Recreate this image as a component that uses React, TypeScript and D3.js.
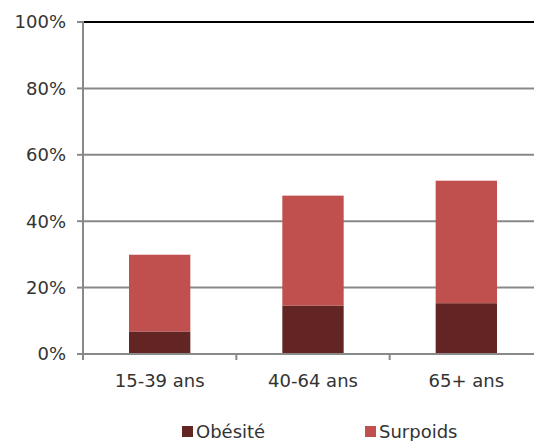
import { useEffect, useRef } from "react"
import * as d3 from "d3"

const categories = ["15-39 ans", "40-64 ans", "65+ ans"]
const obesite = [6.8, 14.6, 15.3]
const surpoids = [23.1, 33.1, 36.9]
const seriesNames = ["Obésité", "Surpoids"]
const yTicks = [0, 20, 40, 60, 80, 100]

const colors = ["#632523", "#C0504D"]
const textColor = "#333333"
const gridColor = "#898989"
const font = "'DejaVu Sans', Verdana, sans-serif"

export default function App() {
  const svgRef = useRef<SVGSVGElement>(null)

  useEffect(() => {
    if (!svgRef.current) return
    const svg = d3.select(svgRef.current)
    svg.selectAll("*").remove()

    const left = 83
    const right = 543
    const top = 22
    const bottom = 354

    const x = d3
      .scaleBand()
      .domain(categories)
      .range([left, right])
      .paddingInner(0.6)
      .paddingOuter(0.3)

    const y = d3.scaleLinear().domain([0, 100]).range([bottom, top])

    // gridlines
    svg
      .append("g")
      .selectAll("line")
      .data(yTicks.filter((t) => t > 0))
      .enter()
      .append("line")
      .attr("x1", left)
      .attr("x2", 534)
      .attr("y1", (d) => y(d))
      .attr("y2", (d) => y(d))
      .attr("stroke", (d) => (d === 100 ? "#000000" : gridColor))
      .attr("stroke-width", 2)

    // stacked bars
    const rows = categories.map((c, i) => ({ cat: c, obesite: obesite[i], surpoids: surpoids[i] }))
    const stack = d3.stack<any>().keys(["obesite", "surpoids"])(rows)

    stack.forEach((layer, li) => {
      svg
        .append("g")
        .selectAll("rect")
        .data(layer)
        .enter()
        .append("rect")
        .attr("x", (d: any) => x(d.data.cat) || 0)
        .attr("width", x.bandwidth())
        .attr("y", (d) => y(d[1]))
        .attr("height", (d) => y(d[0]) - y(d[1]))
        .attr("fill", colors[li])
    })

    // y axis
    svg
      .append("line")
      .attr("x1", left)
      .attr("x2", left)
      .attr("y1", top - 1)
      .attr("y2", bottom + 6)
      .attr("stroke", gridColor)
      .attr("stroke-width", 2)

    const yt = svg.append("g")
    yt.selectAll("line")
      .data(yTicks)
      .enter()
      .append("line")
      .attr("x1", left - 6)
      .attr("x2", left)
      .attr("y1", (d) => y(d))
      .attr("y2", (d) => y(d))
      .attr("stroke", gridColor)
      .attr("stroke-width", 2)
    yt.selectAll("text")
      .data(yTicks)
      .enter()
      .append("text")
      .attr("x", 66)
      .attr("y", (d) => y(d))
      .attr("dy", "0.36em")
      .attr("text-anchor", "end")
      .attr("font-family", font)
      .attr("font-size", "18px")
      .attr("fill", textColor)
      .text((d) => `${d}%`)

    // x axis
    svg
      .append("line")
      .attr("x1", left - 6)
      .attr("x2", 534)
      .attr("y1", bottom)
      .attr("y2", bottom)
      .attr("stroke", gridColor)
      .attr("stroke-width", 2)

    const step = x.step()
    const xTickPos = categories.map((c) => (x(c) || 0) - (step * x.paddingInner()) / 2 + step)
    svg
      .append("g")
      .selectAll("line")
      .data(xTickPos)
      .enter()
      .append("line")
      .attr("x1", (d) => d)
      .attr("x2", (d) => d)
      .attr("y1", bottom)
      .attr("y2", bottom + 6)
      .attr("stroke", gridColor)
      .attr("stroke-width", 2)

    svg
      .append("g")
      .selectAll("text")
      .data(categories)
      .enter()
      .append("text")
      .attr("x", (d) => (x(d) || 0) + x.bandwidth() / 2)
      .attr("y", 387)
      .attr("text-anchor", "middle")
      .attr("font-family", font)
      .attr("font-size", "18px")
      .attr("fill", textColor)
      .text((d) => d)

    // legend
    const legendX = [182, 365]
    const lg = svg.append("g")
    seriesNames.forEach((name, i) => {
      lg.append("rect")
        .attr("x", legendX[i])
        .attr("y", 426)
        .attr("width", 11)
        .attr("height", 11)
        .attr("fill", colors[i])
      lg.append("text")
        .attr("x", legendX[i] + 14)
        .attr("y", 438)
        .attr("font-family", font)
        .attr("font-size", "18px")
        .attr("fill", textColor)
        .text(name)
    })
  }, [])

  return (
    <svg
      ref={svgRef}
      width={534}
      height={441}
      style={{ position: "absolute", left: 0, top: 0, background: "#ffffff" }}
    />
  )
}
